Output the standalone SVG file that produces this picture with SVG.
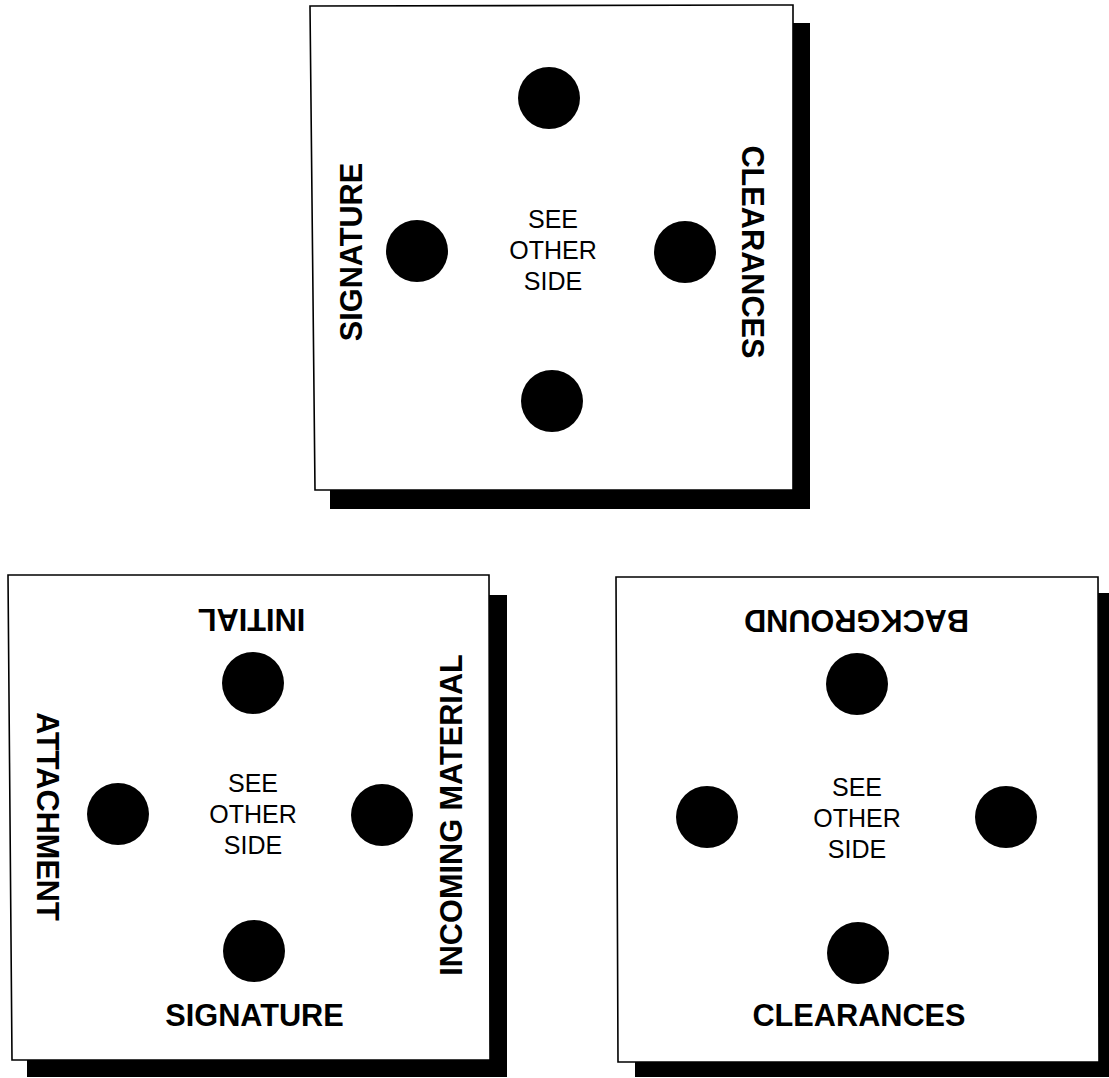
<svg xmlns="http://www.w3.org/2000/svg" width="1109" height="1078" viewBox="0 0 1109 1078">
<style>
.shadow{fill:#000}
.card{fill:#fff;stroke:#000;stroke-width:1.6}
.dot{fill:#000}
.see{font-family:"Liberation Sans",Arial,sans-serif;font-size:25px;text-anchor:middle;fill:#000}
.lbl{font-family:"Liberation Sans",Arial,sans-serif;font-size:30.7px;font-weight:bold;text-anchor:middle;fill:#000}
</style>
<rect width="1109" height="1078" fill="#fff"/>
<g id="card-top">
<rect class="shadow" x="330" y="23" width="480" height="486"/>
<polygon class="card" points="310,6 793,5 793,490 315,490"/>
<circle class="dot" cx="549" cy="98" r="31"/>
<circle class="dot" cx="417" cy="251" r="31"/>
<circle class="dot" cx="685" cy="252" r="31"/>
<circle class="dot" cx="552" cy="401" r="31"/>
<text class="see" x="553" y="228">SEE</text>
<text class="see" x="553" y="259">OTHER</text>
<text class="see" x="553" y="290">SIDE</text>
<text class="lbl" transform="translate(362,252) rotate(-90)">SIGNATURE</text>
<text class="lbl" transform="translate(742,252) rotate(90)">CLEARANCES</text>
</g>
<g id="card-left">
<rect class="shadow" x="27" y="595" width="480" height="482"/>
<polygon class="card" points="8,575 489,575 490,1060 12,1060"/>
<circle class="dot" cx="253" cy="683" r="31"/>
<circle class="dot" cx="118" cy="814" r="31"/>
<circle class="dot" cx="382" cy="815" r="31"/>
<circle class="dot" cx="254" cy="951" r="31"/>
<text class="see" x="253" y="792">SEE</text>
<text class="see" x="253" y="823">OTHER</text>
<text class="see" x="253" y="854">SIDE</text>
<text class="lbl" transform="translate(251.5,609) rotate(180)">INITIAL</text>
<text class="lbl" transform="translate(37,816.5) rotate(90)">ATTACHMENT</text>
<text class="lbl" transform="translate(462,815) rotate(-90)">INCOMING MATERIAL</text>
<text class="lbl" x="254.5" y="1026">SIGNATURE</text>
</g>
<g id="card-right">
<rect class="shadow" x="635" y="593" width="474" height="484"/>
<polygon class="card" points="616,577 1098,577 1099,1062 618,1062"/>
<circle class="dot" cx="857" cy="684" r="31"/>
<circle class="dot" cx="707" cy="817" r="31"/>
<circle class="dot" cx="1006" cy="817" r="31"/>
<circle class="dot" cx="858" cy="953" r="31"/>
<text class="see" x="857" y="796">SEE</text>
<text class="see" x="857" y="827">OTHER</text>
<text class="see" x="857" y="858">SIDE</text>
<text class="lbl" transform="translate(856.5,610) rotate(180)">BACKGROUND</text>
<text class="lbl" x="859" y="1026">CLEARANCES</text>
</g>
<g id="connectors"/>
</svg>
